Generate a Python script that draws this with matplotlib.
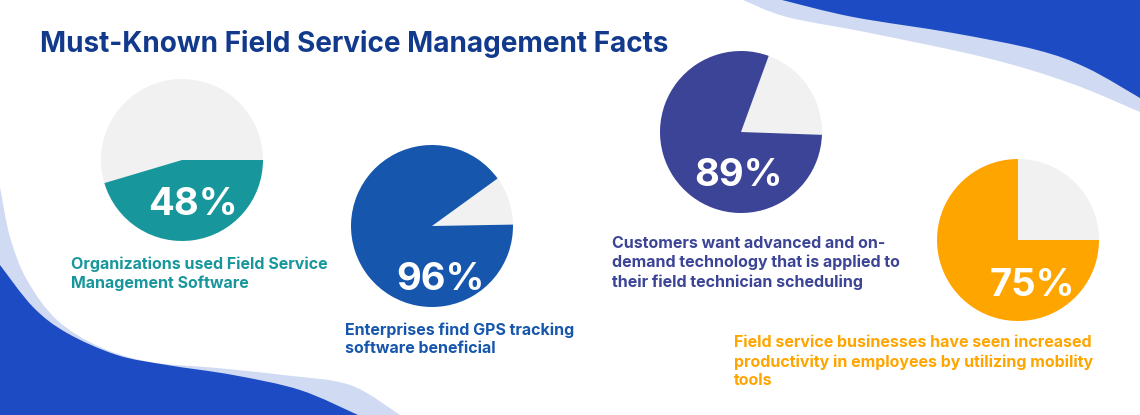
import matplotlib
matplotlib.use('Agg')
import matplotlib.pyplot as plt
from matplotlib.patches import PathPatch
from matplotlib.path import Path

plt.rcParams['font.family'] = ['Inter', 'DejaVu Sans']

W, H = 1140, 415

# values as printed, and the share of each circle that is really coloured
labels = ['48%', '96%', '89%', '75%']
drawn_share = [45.4, 90.3, 80.0, 75.0]
rest_share = [54.6, 9.7, 20.0, 25.0]
colors = ['#17979c', '#1657ad', '#3c4497', '#ffa500']
captions = [
    'Organizations used Field Service\nManagement Software',
    'Enterprises find GPS tracking\nsoftware beneficial',
    'Customers want advanced and on-\ndemand technology that is applied to\ntheir field technician scheduling',
    'Field service businesses have seen increased\nproductivity in employees by utilizing mobility\ntools',
]

# layout in picture pixels
centers = [(182, 160), (432, 226), (741, 132), (1018, 240)]
start_angles = [0, 1, -2, 0]
label_pos = [(193, 205), (440, 280), (738, 176), (1032, 286)]
caption_pos = [(71, 256), (345, 322), (612, 236), (734, 335)]


def blob(points, closing):
    # catmull-rom through the points, then straight round the corners
    verts = [points[0]]
    codes = [Path.MOVETO]
    pts = [points[0]] + points + [points[-1]]
    for p0, p1, p2, p3 in zip(pts, pts[1:], pts[2:], pts[3:]):
        verts.append((p1[0] + (p2[0] - p0[0]) / 6, p1[1] + (p2[1] - p0[1]) / 6))
        verts.append((p2[0] - (p3[0] - p1[0]) / 6, p2[1] - (p3[1] - p1[1]) / 6))
        verts.append(p2)
        codes += [Path.CURVE4, Path.CURVE4, Path.CURVE4]
    for c in closing:
        verts.append(c)
        codes.append(Path.LINETO)
    verts.append(points[0])
    codes.append(Path.CLOSEPOLY)
    return Path([(x, H - y) for x, y in verts], codes)


fig = plt.figure(figsize=(W / 100, H / 100), dpi=100, facecolor='white')
ax = fig.add_axes([0, 0, 1, 1])
ax.set_xlim(0, W)
ax.set_ylim(0, H)
ax.axis('off')

light = '#d0daf3'
dark = '#1c4bc4'

# bottom left waves
ax.add_patch(PathPatch(blob(
    [(0, 187), (10, 237), (27, 280), (57, 320), (100, 347), (150, 362), (217, 368),
     (283, 375), (350, 385), (400, 415)], [(0, 415)]), fc=light, ec='none'))
ax.add_patch(PathPatch(blob(
    [(0, 265), (33, 307), (67, 333), (117, 355), (167, 365), (233, 375), (300, 390),
     (358, 415)], [(0, 415)]), fc=dark, ec='none'))

# top right waves
ax.add_patch(PathPatch(blob(
    [(743, 0), (787, 17), (870, 33), (987, 58), (1070, 83), (1140, 112)], [(1140, 0)]),
    fc=light, ec='none'))
ax.add_patch(PathPatch(blob(
    [(782, 0), (853, 17), (953, 33), (1037, 50), (1087, 68), (1140, 98)], [(1140, 0)]),
    fc=dark, ec='none'))

ax.text(40, H - 44, 'Must-Known Field Service Management Facts', fontsize=20.1,
        fontweight='bold', color='#123a8c', va='center', ha='left')

for i in range(4):
    cx, cy = centers[i]
    ax.pie([rest_share[i], drawn_share[i]], colors=['#f1f1f1', colors[i]],
           startangle=start_angles[i], center=(cx, H - cy), radius=81, frame=True)
    lx, ly = label_pos[i]
    ax.text(lx, H - ly, labels[i], fontsize=27.5, fontweight='bold', color='white',
            ha='center', va='center')
    tx, ty = caption_pos[i]
    ax.text(tx, H - ty, captions[i], fontsize=11.5, fontweight='bold', color=colors[i],
            ha='left', va='top', linespacing=1.32)

# pie() resets the limits and aspect
ax.set_xlim(0, W)
ax.set_ylim(0, H)
ax.set_aspect('auto')
ax.axis('off')

fig.savefig('out.png', dpi=100, facecolor='white')
